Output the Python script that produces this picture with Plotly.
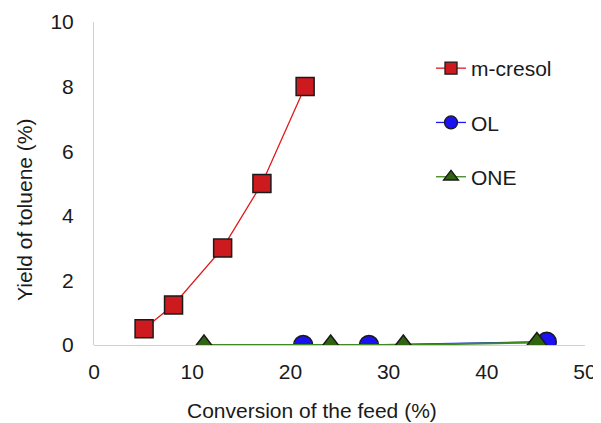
import plotly.graph_objects as go

cresol_x = [5.1, 8.1, 13.1, 17.1, 21.5]
cresol_y = [0.5, 1.24, 3.0, 5.0, 8.0]
ol_x = [21.3, 28.0, 46.1]
ol_y = [0.0, 0.0, 0.1]
one_x = [11.2, 24.1, 31.5, 45.1]
one_y = [0.0, 0.0, 0.0, 0.08]

x_ticks = [0, 10, 20, 30, 40, 50]
y_ticks = [0, 2, 4, 6, 8, 10]

FONT = "Liberation Sans, Arial, sans-serif"

# page body has an 8px margin, so the figure is drawn 8px smaller and offset
W, H = 593, 415
L, T, R, B = 86, 14, 16, 78
PW, PH = W - L - R, H - T - B

series = [
    dict(name="m-cresol", x=cresol_x, y=cresol_y, lc="#e0191b", lw=1.3,
         sym="square", size=18, lsize=12, fc="#cc1a1f"),
    dict(name="OL", x=ol_x, y=ol_y, lc="#1a1aff", lw=1.3,
         sym="circle", size=19, lsize=13, fc="#1a12f0"),
    dict(name="ONE", x=one_x, y=one_y, lc="#3d8a1f", lw=2,
         sym="triangle-up", size=20, lsize=13, fc="#2f6410"),
]

fig = go.Figure()
for s in series:
    fig.add_trace(go.Scatter(
        x=s["x"], y=s["y"], name=s["name"], mode="lines+markers", showlegend=False,
        line=dict(color=s["lc"], width=s["lw"]),
        marker=dict(symbol=s["sym"], size=s["size"], color=s["fc"],
                    line=dict(color="#1a1a1a", width=1.5)),
    ))
for i, s in enumerate(series):
    fig.add_trace(go.Scatter(
        x=[None], y=[None], name=s["name"], mode="lines+markers", legendgroup=str(i),
        line=dict(color=s["lc"], width=1.3),
        marker=dict(symbol=s["sym"], size=s["lsize"], color=s["fc"],
                    line=dict(color="#1a1a1a", width=1.3)),
    ))

fig.update_layout(
    width=W, height=H,
    margin=dict(l=L, r=R, t=T, b=B),
    paper_bgcolor="white", plot_bgcolor="white",
    font=dict(family=FONT, size=21, color="#1a1a1a"),
    showlegend=True,
    legend=dict(x=(423 - L) / PW, y=(337 - 40) / PH, xanchor="left", yanchor="top",
                font=dict(size=21), tracegroupgap=24, itemwidth=30,
                bgcolor="rgba(0,0,0,0)"),
    xaxis=dict(range=[0, 50], tickvals=x_ticks, showgrid=False, zeroline=False,
               showline=False, ticks="outside", ticklen=0, ticklabelstandoff=8,
               tickfont=dict(size=21), automargin=False),
    yaxis=dict(range=[0, 10], tickvals=y_ticks, showgrid=False, zeroline=True,
               zerolinecolor="#d0d0d0", zerolinewidth=1,
               showline=True, linecolor="#d0d0d0", linewidth=1,
               ticks="outside", ticklen=0, ticklabelstandoff=15,
               tickfont=dict(size=21), automargin=False),
    annotations=[
        dict(text="Conversion of the feed (%)", xref="paper", yref="paper",
             x=(304 - L) / PW, y=-(402 - 337) / PH, xanchor="center", yanchor="middle",
             showarrow=False, font=dict(size=21)),
        dict(text="Yield of toluene (%)", xref="paper", yref="paper",
             x=-(L - 16) / PW, y=(337 - 202) / PH, xanchor="center", yanchor="middle",
             textangle=-90, showarrow=False, font=dict(size=21)),
    ],
)

fig.write_html("out.html")
